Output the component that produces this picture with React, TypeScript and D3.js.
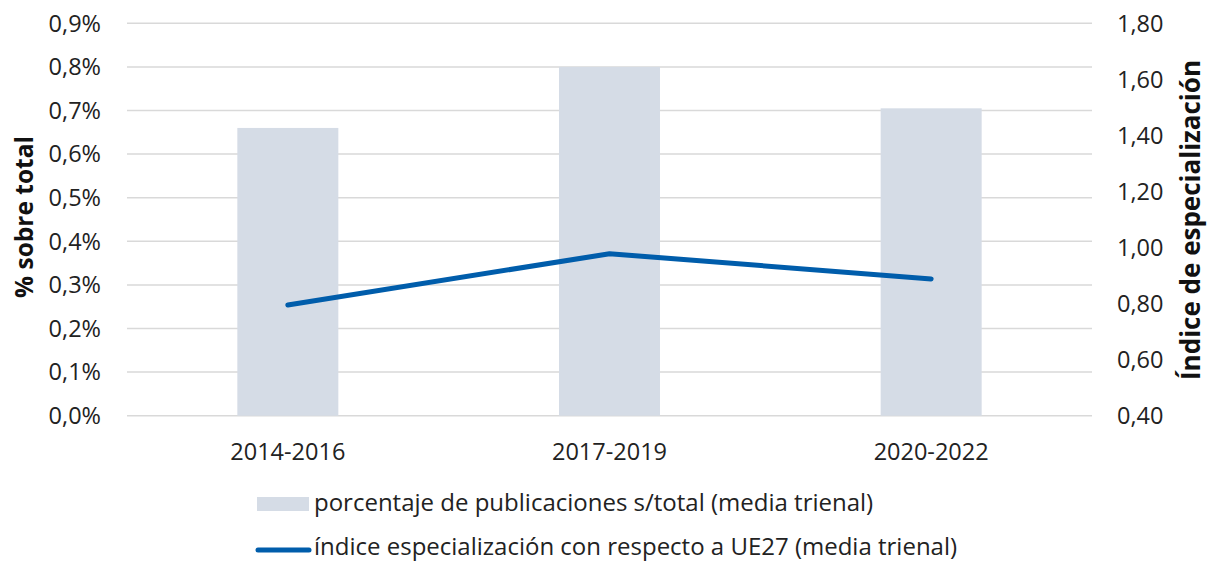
import React from "react";
import * as d3 from "d3";

const categories = ["2014-2016", "2017-2019", "2020-2022"];
const shareValues = [0.66, 0.80, 0.705];
const indexValues = [0.795, 0.978, 0.888];
const leftTicks = [0, 0.1, 0.2, 0.3, 0.4, 0.5, 0.6, 0.7, 0.8, 0.9];
const rightTicks = [0.4, 0.6, 0.8, 1.0, 1.2, 1.4, 1.6, 1.8];
const barLabel = "porcentaje de publicaciones s/total (media trienal)";
const lineLabel = "índice especialización con respecto a UE27 (media trienal)";

const W = 1208, H = 562;
const left = 127, right = 1092, top = 23.3, bottom = 415.7;
const FONT = "'Open Sans', sans-serif";
const BAR = "#d5dce6";
const LINE = "#005dab";
const GRID = "#d9d9d9";
const FS = 23.5;

export default function App() {
  const x = d3.scaleBand<string>().domain(categories).range([left, right]).paddingInner(0.686).paddingOuter(0.343);
  const xc = (c: string) => (x(c) as number) + x.bandwidth() / 2;
  const yL = d3.scaleLinear().domain([0, 0.9]).range([bottom, top]);
  const yR = d3.scaleLinear().domain([0.4, 1.8]).range([bottom, top]);
  const line = d3.line<number>().x((_, i) => xc(categories[i])).y((d) => yR(d));
  const fmtL = (v: number) => v.toFixed(1).replace(".", ",") + "%";
  const fmtR = (v: number) => v.toFixed(2).replace(".", ",");
  return (
    <svg width={W} height={H} style={{ position: "absolute", left: 0, top: 0, fontFamily: FONT }}>
      <rect width={W} height={H} fill="#fff" />
      {leftTicks.map((t) => (
        <line key={t} x1={left} x2={right} y1={yL(t)} y2={yL(t)} stroke={GRID} strokeWidth={1.5} />
      ))}
      {categories.map((c, i) => (
        <rect key={c} x={x(c)} y={yL(shareValues[i])} width={x.bandwidth()} height={bottom - yL(shareValues[i])} fill={BAR} />
      ))}
      <path d={line(indexValues) || ""} fill="none" stroke={LINE} strokeWidth={5} strokeLinecap="round" strokeLinejoin="round" />
      {leftTicks.map((t) => (
        <text key={t} x={101} y={yL(t)} dy="0.35em" textAnchor="end" fontSize={FS} fill="#222">{fmtL(t)}</text>
      ))}
      {rightTicks.map((t) => (
        <text key={t} x={1117} y={yR(t)} dy="0.35em" textAnchor="start" fontSize={FS} fill="#222">{fmtR(t)}</text>
      ))}
      {categories.map((c) => (
        <text key={c} x={xc(c)} y={460} textAnchor="middle" fontSize={FS} fill="#222">{c}</text>
      ))}
      <text transform={`translate(33,${217}) rotate(-90)`} textAnchor="middle" fontSize={24.5} fontWeight="bold" fill="#111">% sobre total</text>
      <text transform={`translate(1200,${220}) rotate(-90)`} textAnchor="middle" fontSize={26} fontWeight="bold" fill="#111">Índice de especialización</text>
      <rect x={257} y={497} width={52} height={14} fill={BAR} />
      <text x={314} y={511} fontSize={24} fill="#222">{barLabel}</text>
      <line x1={258} x2={309} y1={550} y2={550} stroke={LINE} strokeWidth={5} strokeLinecap="round" />
      <text x={314} y={555} fontSize={24} fill="#222">{lineLabel}</text>
    </svg>
  );
}
